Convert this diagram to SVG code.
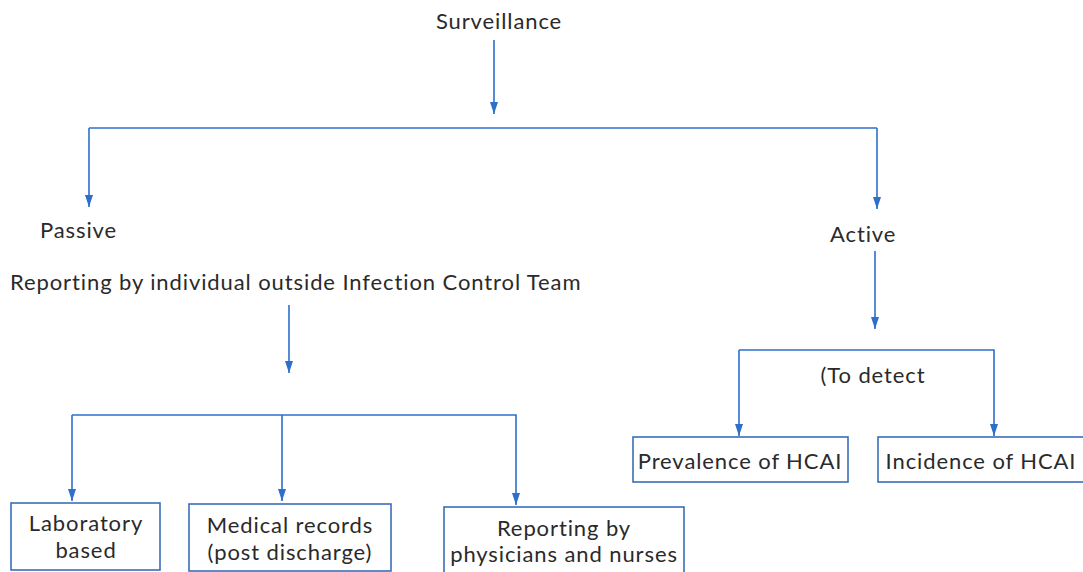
<svg xmlns="http://www.w3.org/2000/svg" width="1083" height="572" viewBox="0 0 1083 572">
<style>
  text { font-family: Lato, "Liberation Sans", sans-serif; font-size: 22px; letter-spacing: 0.9px; fill: #2a2a2a; }
  .c { text-anchor: middle; }
  .ln { fill: none; stroke: #2f6fcc; stroke-width: 1.6; }
  .box { fill: #ffffff; stroke: #3a6fb8; stroke-width: 1.6; }
</style>
<defs>
  <marker id="ah" viewBox="0 0 12 8" refX="12" refY="4" markerWidth="12" markerHeight="8" markerUnits="userSpaceOnUse" orient="auto">
    <path d="M0,0 L12,4 L0,8 z" fill="#2f6fcc"/>
  </marker>
</defs>
<rect width="1083" height="572" fill="#ffffff"/>
<g id="connectors">
  <path class="ln" d="M494,40 V114" marker-end="url(#ah)"/>
  <path class="ln" d="M89,128 H877"/>
  <path class="ln" d="M89,128 V207" marker-end="url(#ah)"/>
  <path class="ln" d="M877,128 V209" marker-end="url(#ah)"/>
  <path class="ln" d="M289,305 V373" marker-end="url(#ah)"/>
  <path class="ln" d="M72,415 H516 V505" marker-end="url(#ah)"/>
  <path class="ln" d="M72,415 V501" marker-end="url(#ah)"/>
  <path class="ln" d="M282,415 V501" marker-end="url(#ah)"/>
  <path class="ln" d="M875,251 V329" marker-end="url(#ah)"/>
  <path class="ln" d="M739,350 H994 V436" marker-end="url(#ah)"/>
  <path class="ln" d="M739,350 V436" marker-end="url(#ah)"/>
</g>
<g id="surveillance"><text class="c" x="499" y="29">Surveillance</text></g>
<g id="passive"><text x="40" y="238">Passive</text></g>
<g id="active"><text x="830" y="242">Active</text></g>
<g id="reporting-individual"><text x="10" y="290">Reporting by individual outside Infection Control Team</text></g>
<g id="to-detect"><text class="c" x="873" y="383">(To detect</text></g>
<g id="laboratory">
  <rect class="box" x="11" y="503" width="149" height="67"/>
  <text class="c" x="86" y="531">Laboratory</text>
  <text class="c" x="86" y="558">based</text>
</g>
<g id="medical-records">
  <rect class="box" x="189" y="504" width="202" height="67"/>
  <text class="c" x="290" y="533">Medical records</text>
  <text class="c" x="290" y="560">(post discharge)</text>
</g>
<g id="reporting-physicians">
  <rect class="box" x="444" y="507" width="240" height="66"/>
  <text class="c" x="564" y="536">Reporting by</text>
  <text class="c" x="564" y="562">physicians and nurses</text>
</g>
<g id="prevalence">
  <rect class="box" x="633" y="437" width="215" height="45"/>
  <text class="c" x="740" y="469">Prevalence of HCAI</text>
</g>
<g id="incidence">
  <rect class="box" x="878" y="437" width="210" height="45"/>
  <text class="c" x="981" y="469">Incidence of HCAI</text>
</g>
</svg>
